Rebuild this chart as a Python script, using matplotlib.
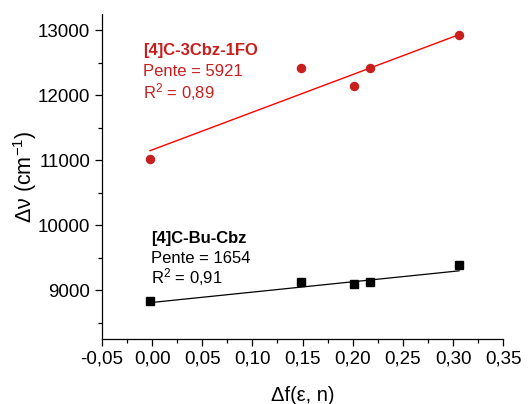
import numpy as np
import matplotlib
matplotlib.use("Agg")
import matplotlib.pyplot as plt
from matplotlib.ticker import MultipleLocator, FuncFormatter

plt.rcParams['font.family'] = ['Liberation Sans', 'DejaVu Sans']
plt.rcParams['mathtext.fontset'] = 'custom'
plt.rcParams['mathtext.rm'] = 'Liberation Sans'
plt.rcParams['mathtext.it'] = 'Liberation Sans'

# data
df_red = [-0.002, 0.148, 0.201, 0.217, 0.306]
dv_red = [11020, 12426, 12138, 12426, 12923]
df_blk = [-0.002, 0.148, 0.201, 0.217, 0.306]
dv_blk = [8835, 9123, 9092, 9123, 9389]
# fitted lines as drawn (intercept, slope)
fit_red = (11160, 5800)
fit_blk = (8812, 1590)
red_lines = ["[4]C-3Cbz-1FO", "Pente = 5921", "R$^2$ = 0,89"]
blk_lines = ["[4]C-Bu-Cbz", "Pente = 1654", "R$^2$ = 0,91"]

fig = plt.figure(figsize=(5.28, 4.04), dpi=100)
ax = fig.add_axes([0.193, 0.161, 0.760, 0.804])

xr = np.array([df_red[0], df_red[-1]])
ax.plot(xr, fit_red[0] + fit_red[1] * xr, '-', color='#ff0000', lw=1.0)
ax.plot(xr, fit_blk[0] + fit_blk[1] * xr, '-', color='black', lw=0.9)

ax.plot(df_red, dv_red, 'o', color='#c81e1e', ms=5.8, ls='none')
ax.plot(df_blk, dv_blk, 's', color='black', ms=5.2, ls='none')

ax.set_xlim(-0.05, 0.35)
ax.set_ylim(8250, 13250)
ax.xaxis.set_major_locator(MultipleLocator(0.05))
ax.xaxis.set_minor_locator(MultipleLocator(0.025))
ax.yaxis.set_major_locator(MultipleLocator(1000))
ax.yaxis.set_minor_locator(MultipleLocator(500))
ax.xaxis.set_major_formatter(FuncFormatter(lambda v, p: f"{v:.2f}".replace('.', ',').replace('-0,00', '0,00')))
ax.yaxis.set_major_formatter(FuncFormatter(lambda v, p: f"{v:.0f}"))

for s in ['top', 'right']:
    ax.spines[s].set_visible(False)
for s in ['left', 'bottom']:
    ax.spines[s].set_linewidth(0.9)
ax.tick_params(which='major', direction='out', length=5, width=0.9, labelsize=13.5)
ax.tick_params(which='minor', direction='out', length=3, width=0.9)

ax.set_xlabel("Δf(ε, n)", fontsize=14.5, labelpad=13)
ax.set_ylabel("Δν (cm$^{-1}$)", fontsize=15.5, labelpad=-1)

ys_red = [12615, 12292, 11950]
ys_blk = [9734, 9426, 9103]
for i, t in enumerate(red_lines):
    ax.text(-0.009, ys_red[i], t, color='#c81e1e', fontsize=12,
            fontweight='bold' if i == 0 else 'normal', va='baseline', ha='left')
for i, t in enumerate(blk_lines):
    ax.text(-0.001, ys_blk[i], t, color='black', fontsize=12,
            fontweight='bold' if i == 0 else 'normal', va='baseline', ha='left')

fig.savefig("out.png", dpi=100)
